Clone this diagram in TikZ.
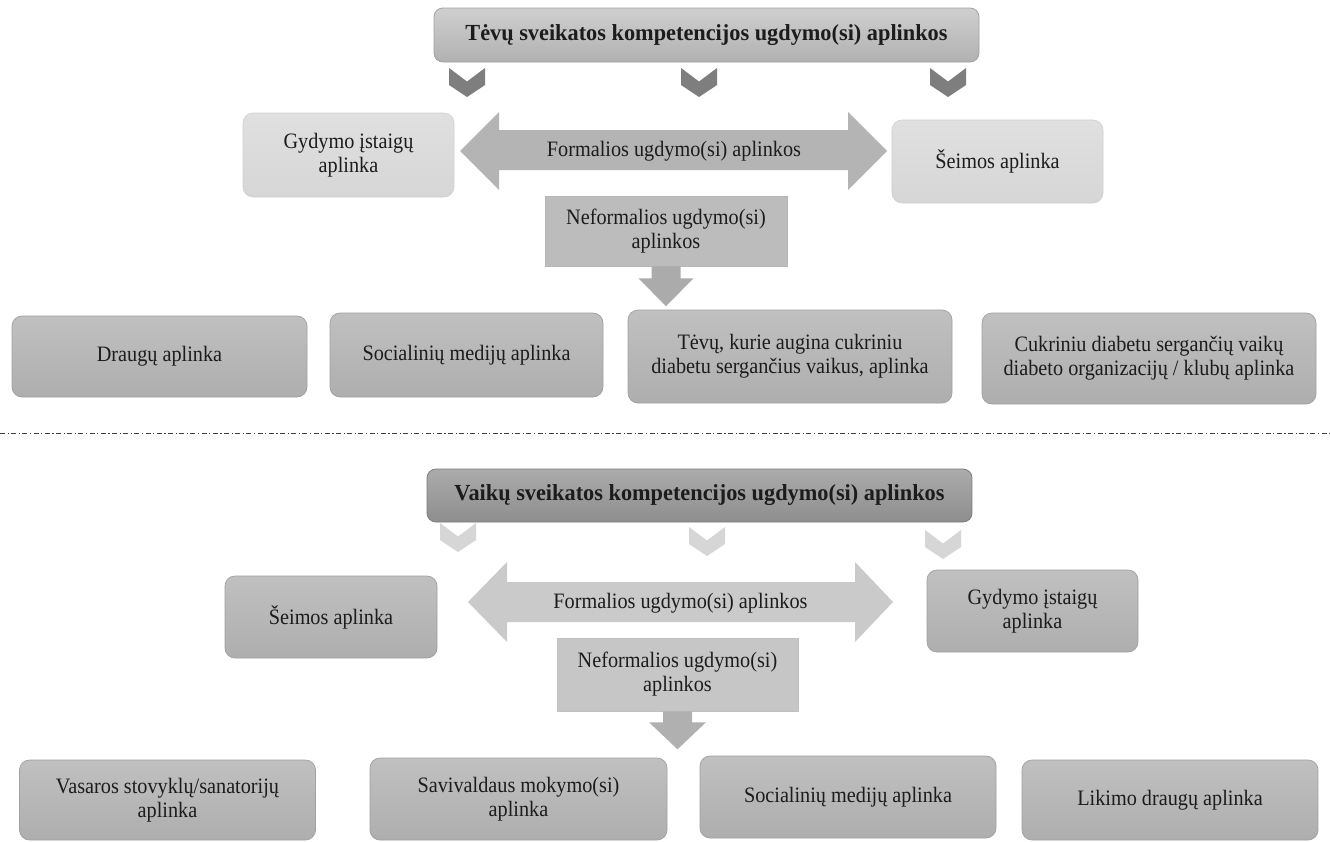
\documentclass[tikz,border=0pt]{standalone}
\usepackage{fontspec}
\setmainfont{Liberation Serif}[FakeStretch=0.92]
\newfontfamily\ttlfont{Liberation Serif}[FakeStretch=0.97]
\usetikzlibrary{calc}

\definecolor{ink}{HTML}{1C1C1C}
\definecolor{ttlAtop}{HTML}{CFCFCF}
\definecolor{ttlAbot}{HTML}{B1B1B1}
\definecolor{ttlAline}{HTML}{A2A2A2}
\definecolor{ttlBtop}{HTML}{ABABAB}
\definecolor{ttlBbot}{HTML}{8E8E8E}
\definecolor{ttlBline}{HTML}{7C7C7C}
\definecolor{chevA}{HTML}{7E7E7E}
\definecolor{chevB}{HTML}{D6D6D6}
\definecolor{paleTop}{HTML}{E0E0E0}
\definecolor{paleBot}{HTML}{D6D6D6}
\definecolor{paleLine}{HTML}{D0D0D0}
\definecolor{midTop}{HTML}{C0C0C0}
\definecolor{midBot}{HTML}{AEAEAE}
\definecolor{midLine}{HTML}{A0A0A0}
\definecolor{arrowA}{HTML}{B4B4B4}
\definecolor{arrowB}{HTML}{CACACA}
\definecolor{nefA}{HTML}{BCBCBC}
\definecolor{nefB}{HTML}{C6C6C6}
\definecolor{downA}{HTML}{ABABAB}
\definecolor{downB}{HTML}{B0B0B0}
\definecolor{sepline}{HTML}{404040}

\tikzset{
  lbl/.style={font=\fontsize{22}{24}\selectfont, text=ink, align=center},
  ttlbox/.style={rounded corners=9pt, line width=0.8pt, inner sep=0pt,
    font=\ttlfont\fontsize{23}{26}\selectfont\bfseries, text=ink},
  palebox/.style={lbl, rounded corners=10pt, line width=0.6pt, inner sep=0pt,
    draw=paleLine, top color=paleTop, bottom color=paleBot},
  midbox/.style={lbl, rounded corners=10pt, line width=0.7pt, inner sep=0pt,
    draw=midLine, top color=midTop, bottom color=midBot},
  flatbox/.style={lbl, inner sep=0pt, line width=0.5pt},
  chev/.pic={\path[pic actions] (-18,0) -- (0,13.5) -- (18,0) -- (18,17) -- (0,29) -- (-18,17) -- cycle;},
  sep/.style={draw=sepline, line width=0.9pt, dash pattern=on 5pt off 2.5pt on 1.2pt off 2.5pt}
}

\begin{document}
\begin{tikzpicture}[x=1pt,y=-1pt]
\useasboundingbox[fill=white] (0,0) rectangle (1330,841);

% ---------- parents' environments ----------
\node[ttlbox, draw=ttlAline, top color=ttlAtop, bottom color=ttlAbot,
      minimum width=545, minimum height=54] (tA) at (706.5,35)
      {Tėvų sveikatos kompetencijos ugdymo(si) aplinkos};

\pic[fill=chevA] at (467,68) {chev};
\pic[fill=chevA] at (699,68) {chev};
\pic[fill=chevA] at (948,68) {chev};

\node[palebox, minimum width=211, minimum height=84] (gydA) at (348.5,155)
      {Gydymo įstaigų\\aplinka};
\node[palebox, minimum width=211, minimum height=83] (seiA) at (997.5,161.5)
      {Šeimos aplinka};

% formal environments: two-headed block arrow
\fill[arrowA] (460,151) -- (499,112) -- (499,130) -- (848,130) -- (848,112)
  -- (887,151) -- (848,190) -- (848,170) -- (499,170) -- (499,190) -- cycle;
\node[lbl] (formA) at (674,151) {Formalios ugdymo(si) aplinkos};

\node[flatbox, fill=nefA, draw=nefA!85!black!20!nefA,
      minimum width=242, minimum height=70] (nefA) at (666,231)
      {Neformalios ugdymo(si)\\aplinkos};
\fill[downA] (nefA.south) ++(-14.5,0) -- ++(0,12) -- ++(-13,0) -- ++(27.5,28)
  -- ++(27.5,-28) -- ++(-13,0) -- ++(0,-12) -- cycle;

\node[midbox, minimum width=295, minimum height=81] (draA) at (159.5,356.5)
      {Draugų aplinka};
\node[midbox, minimum width=273, minimum height=84] (socA) at (466.5,355)
      {Socialinių medijų aplinka};
\node[midbox, minimum width=324, minimum height=93] (tevA) at (790,356.5)
      {Tėvų, kurie augina cukriniu\\diabetu sergančius vaikus, aplinka};
\node[midbox, minimum width=334, minimum height=91] (cukA) at (1149,358.5)
      {Cukriniu diabetu sergančių vaikų\\diabeto organizacijų / klubų aplinka};

% separator
\coordinate (sepL) at (0,433);
\coordinate (sepR) at (1330,433);
\draw[sep] (sepL) -- (sepR);

% ---------- children's environments ----------
\node[ttlbox, draw=ttlBline, top color=ttlBtop, bottom color=ttlBbot,
      minimum width=545, minimum height=53] (tB) at (699.5,495.5)
      {Vaikų sveikatos kompetencijos ugdymo(si) aplinkos};

\pic[fill=chevB] at (458,523) {chev};
\pic[fill=chevB] at (707,527) {chev};
\pic[fill=chevB] at (943,530) {chev};

\node[midbox, minimum width=212, minimum height=82] (seiB) at (331,617)
      {Šeimos aplinka};
\node[midbox, minimum width=211, minimum height=82] (gydB) at (1032.5,611)
      {Gydymo įstaigų\\aplinka};

\fill[arrowB] (468,602) -- (507,562) -- (507,582) -- (855,582) -- (855,562)
  -- (893,602) -- (855,642) -- (855,622) -- (507,622) -- (507,642) -- cycle;
\node[lbl] (formB) at (680.5,603) {Formalios ugdymo(si) aplinkos};

\node[flatbox, fill=nefB, draw=nefB!85!black!20!nefB,
      minimum width=241, minimum height=73] (nefB) at (677.5,674.5)
      {Neformalios ugdymo(si)\\aplinkos};
\fill[downB] (nefB.south) ++(-14.5,0) -- ++(0,11) -- ++(-14,0) -- ++(28.5,27)
  -- ++(28.5,-27) -- ++(-14,0) -- ++(0,-11) -- cycle;

\node[midbox, minimum width=296, minimum height=80] (vasB) at (167.5,800)
      {Vasaros stovyklų/sanatorijų\\aplinka};
\node[midbox, minimum width=297, minimum height=82] (savB) at (518.5,799)
      {Savivaldaus mokymo(si)\\aplinka};
\node[midbox, minimum width=296, minimum height=82] (socB) at (848,797)
      {Socialinių medijų aplinka};
\node[midbox, minimum width=296, minimum height=80] (likB) at (1170,800)
      {Likimo draugų aplinka};
\end{tikzpicture}
\end{document}
